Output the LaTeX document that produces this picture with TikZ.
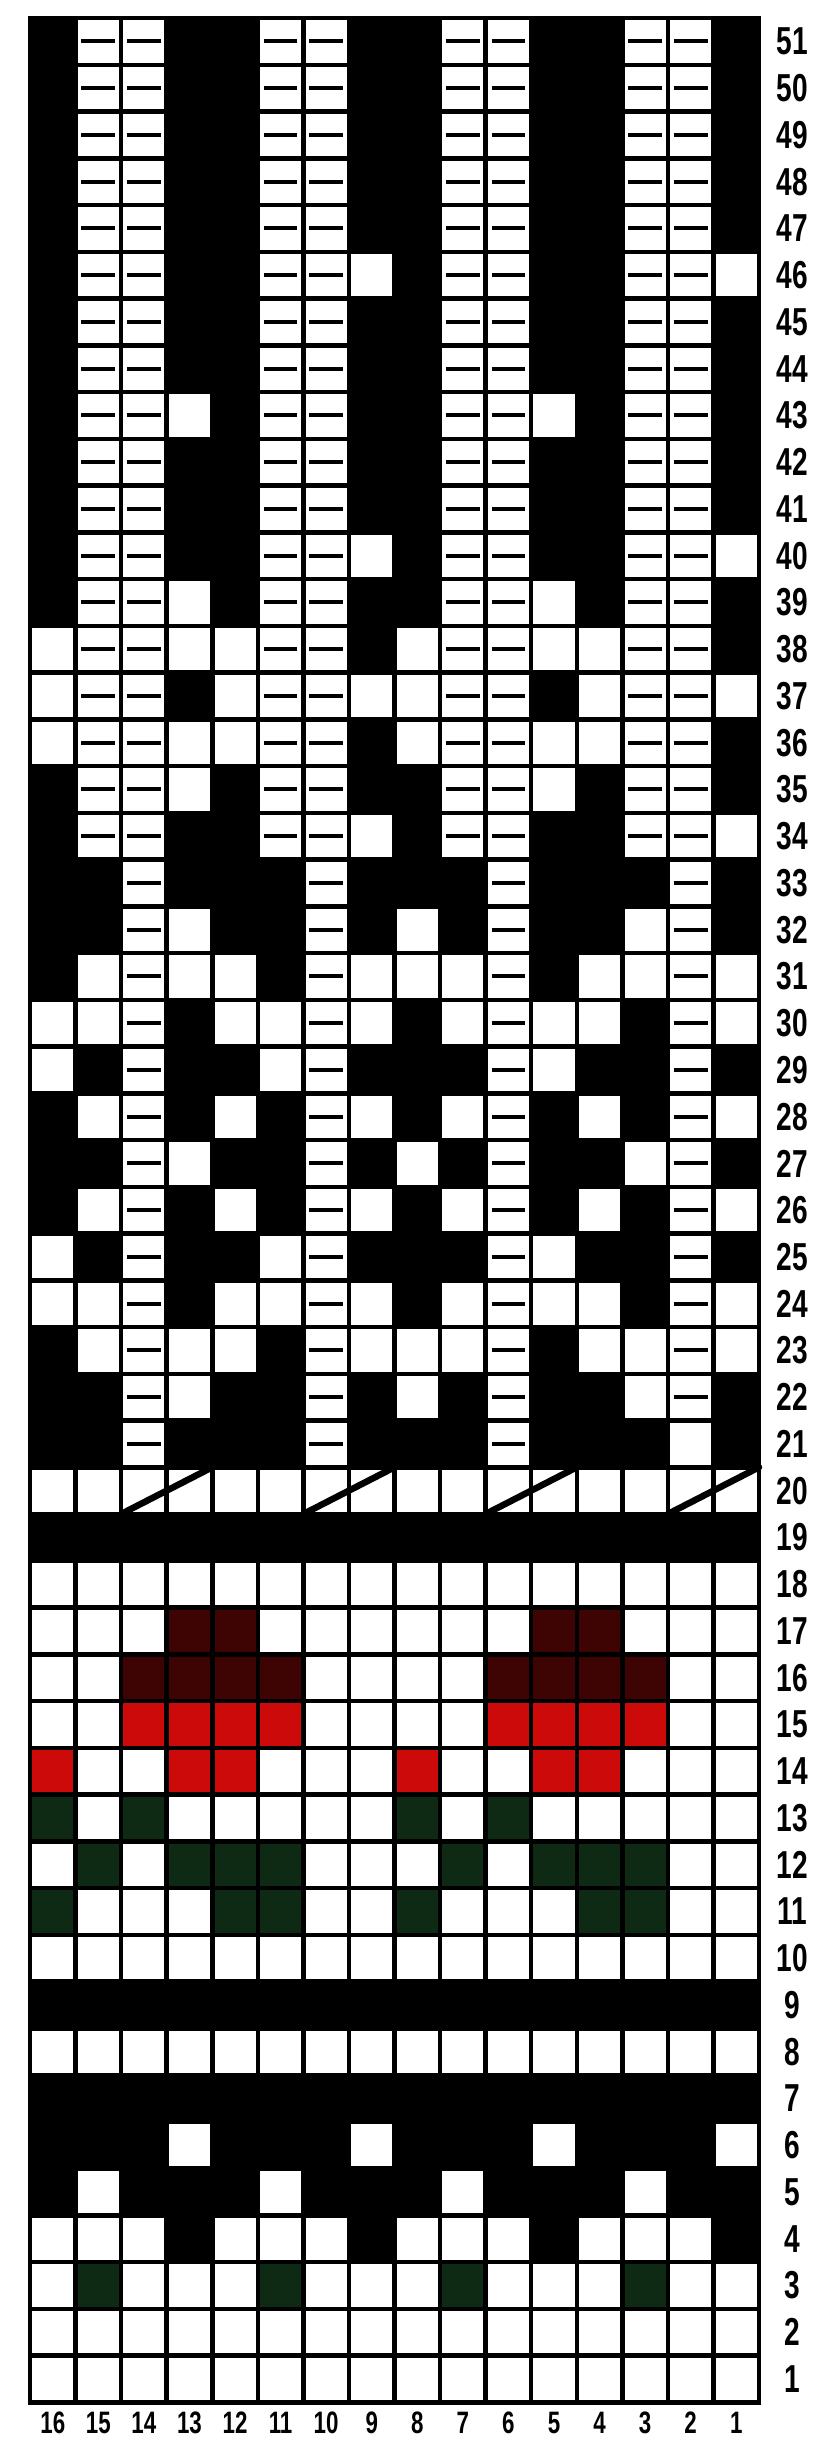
\documentclass[tikz,border=0pt]{standalone}
\usepackage{fontspec}
\setmainfont{Liberation Sans}
\definecolor{chred}{HTML}{CC0A0A}
\definecolor{chmaroon}{HTML}{3E0303}
\definecolor{chgreen}{HTML}{0E2A14}
\def\cellw{45.5625}
\def\cellh{46.75}
\newcommand\narrow[1]{\scalebox{0.72}[1]{#1}}
\tikzset{
  gridline/.style={black, line width=4.5pt, line cap=rect},
  dashline/.style={black, line width=4pt},
  slashline/.style={black, line width=6.5pt, line cap=round},
  rowlab/.style={font=\fontsize{39}{39}\selectfont\bfseries, inner sep=0pt},
  collab/.style={font=\fontsize{31}{31}\selectfont\bfseries, inner sep=0pt},
  cellK/.pic={\fill[black] (0,0) rectangle (\cellw,\cellh);},
  cellW/.pic={\fill[white] (0,0) rectangle (\cellw,\cellh);},
  cellR/.pic={\fill[chred] (0,0) rectangle (\cellw,\cellh);},
  cellM/.pic={\fill[chmaroon] (0,0) rectangle (\cellw,\cellh);},
  cellG/.pic={\fill[chgreen] (0,0) rectangle (\cellw,\cellh);},
  cellD/.pic={\fill[white] (0,0) rectangle (\cellw,\cellh);
              \draw[dashline] ({0.13*\cellw},{0.5*\cellh}) -- ({0.87*\cellw},{0.5*\cellh});},
}
\newcommand\chartrow[2]{%
  \foreach \t [count=\i] in {#2} {%
    \pgfmathsetmacro\xx{30+(\i-1)*\cellw}%
    \pgfmathsetmacro\yy{18+(51-#1)*\cellh}%
    \edef\doit{\noexpand\pic at (\xx,\yy) {cell\t};}%
    \doit
  }%
}
\begin{document}
\begin{tikzpicture}[x=1pt,y=-1pt]
\useasboundingbox (0,0) rectangle (822,2439);
\fill[white] (0,0) rectangle (822,2439);
% rows 51..34
\chartrow{51}{K,D,D,K,K,D,D,K,K,D,D,K,K,D,D,K}
\chartrow{50}{K,D,D,K,K,D,D,K,K,D,D,K,K,D,D,K}
\chartrow{49}{K,D,D,K,K,D,D,K,K,D,D,K,K,D,D,K}
\chartrow{48}{K,D,D,K,K,D,D,K,K,D,D,K,K,D,D,K}
\chartrow{47}{K,D,D,K,K,D,D,K,K,D,D,K,K,D,D,K}
\chartrow{46}{K,D,D,K,K,D,D,W,K,D,D,K,K,D,D,W}
\chartrow{45}{K,D,D,K,K,D,D,K,K,D,D,K,K,D,D,K}
\chartrow{44}{K,D,D,K,K,D,D,K,K,D,D,K,K,D,D,K}
\chartrow{43}{K,D,D,W,K,D,D,K,K,D,D,W,K,D,D,K}
\chartrow{42}{K,D,D,K,K,D,D,K,K,D,D,K,K,D,D,K}
\chartrow{41}{K,D,D,K,K,D,D,K,K,D,D,K,K,D,D,K}
\chartrow{40}{K,D,D,K,K,D,D,W,K,D,D,K,K,D,D,W}
\chartrow{39}{K,D,D,W,K,D,D,K,K,D,D,W,K,D,D,K}
\chartrow{38}{W,D,D,W,W,D,D,K,W,D,D,W,W,D,D,K}
\chartrow{37}{W,D,D,K,W,D,D,W,W,D,D,K,W,D,D,W}
\chartrow{36}{W,D,D,W,W,D,D,K,W,D,D,W,W,D,D,K}
\chartrow{35}{K,D,D,W,K,D,D,K,K,D,D,W,K,D,D,K}
\chartrow{34}{K,D,D,K,K,D,D,W,K,D,D,K,K,D,D,W}
% rows 33..21
\chartrow{33}{K,K,D,K,K,K,D,K,K,K,D,K,K,K,D,K}
\chartrow{32}{K,K,D,W,K,K,D,K,W,K,D,K,K,W,D,K}
\chartrow{31}{K,W,D,W,W,K,D,W,W,W,D,K,W,W,D,W}
\chartrow{30}{W,W,D,K,W,W,D,W,K,W,D,W,W,K,D,W}
\chartrow{29}{W,K,D,K,K,W,D,K,K,K,D,W,K,K,D,K}
\chartrow{28}{K,W,D,K,W,K,D,W,K,W,D,K,W,K,D,W}
\chartrow{27}{K,K,D,W,K,K,D,K,W,K,D,K,K,W,D,K}
\chartrow{26}{K,W,D,K,W,K,D,W,K,W,D,K,W,K,D,W}
\chartrow{25}{W,K,D,K,K,W,D,K,K,K,D,W,K,K,D,K}
\chartrow{24}{W,W,D,K,W,W,D,W,K,W,D,W,W,K,D,W}
\chartrow{23}{K,W,D,W,W,K,D,W,W,W,D,K,W,W,D,W}
\chartrow{22}{K,K,D,W,K,K,D,K,W,K,D,K,K,W,D,K}
\chartrow{21}{K,K,D,K,K,K,D,K,K,K,D,K,K,K,W,K}
% rows 20..1
\chartrow{20}{W,W,W,W,W,W,W,W,W,W,W,W,W,W,W,W}
\chartrow{19}{K,K,K,K,K,K,K,K,K,K,K,K,K,K,K,K}
\chartrow{18}{W,W,W,W,W,W,W,W,W,W,W,W,W,W,W,W}
\chartrow{17}{W,W,W,M,M,W,W,W,W,W,W,M,M,W,W,W}
\chartrow{16}{W,W,M,M,M,M,W,W,W,W,M,M,M,M,W,W}
\chartrow{15}{W,W,R,R,R,R,W,W,W,W,R,R,R,R,W,W}
\chartrow{14}{R,W,W,R,R,W,W,W,R,W,W,R,R,W,W,W}
\chartrow{13}{G,W,G,W,W,W,W,W,G,W,G,W,W,W,W,W}
\chartrow{12}{W,G,W,G,G,G,W,W,W,G,W,G,G,G,W,W}
\chartrow{11}{G,W,W,W,G,G,W,W,G,W,W,W,G,G,W,W}
\chartrow{10}{W,W,W,W,W,W,W,W,W,W,W,W,W,W,W,W}
\chartrow{9}{K,K,K,K,K,K,K,K,K,K,K,K,K,K,K,K}
\chartrow{8}{W,W,W,W,W,W,W,W,W,W,W,W,W,W,W,W}
\chartrow{7}{K,K,K,K,K,K,K,K,K,K,K,K,K,K,K,K}
\chartrow{6}{K,K,K,W,K,K,K,W,K,K,K,W,K,K,K,W}
\chartrow{5}{K,W,K,K,K,W,K,K,K,W,K,K,K,W,K,K}
\chartrow{4}{W,W,W,K,W,W,W,K,W,W,W,K,W,W,W,K}
\chartrow{3}{W,G,W,W,W,G,W,W,W,G,W,W,W,G,W,W}
\chartrow{2}{W,W,W,W,W,W,W,W,W,W,W,W,W,W,W,W}
\chartrow{1}{W,W,W,W,W,W,W,W,W,W,W,W,W,W,W,W}
% grid lines
\foreach \k in {0,...,16}
  \draw[gridline] ({30+\k*\cellw},18) -- ({30+\k*\cellw},{18+51*\cellh});
\foreach \k in {0,...,51}
  \draw[gridline] (30,{18+\k*\cellh}) -- ({30+16*\cellw},{18+\k*\cellh});
% cable slashes in row 20
\foreach \p in {3,7,11,15}
  \draw[slashline] ({30+(\p-1)*\cellw},{18+32*\cellh}) -- ({30+(\p+1)*\cellw},{18+31*\cellh});
% row numbers
\foreach \r in {1,...,51}
  \node[rowlab] (r\r) at (792,{18+(51-\r+0.5)*\cellh}) {\narrow{\r}};
% column numbers
\foreach \c in {1,...,16}
  \node[collab] (c\c) at ({30+(16-\c+0.5)*\cellw},2423) {\narrow{\c}};
\end{tikzpicture}
\end{document}
